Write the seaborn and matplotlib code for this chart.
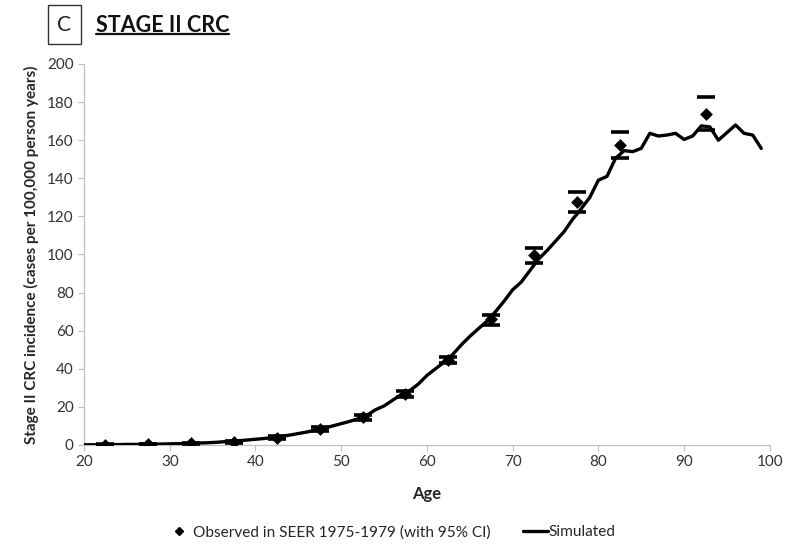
import matplotlib
matplotlib.use("Agg")
import matplotlib.pyplot as plt
from matplotlib.lines import Line2D
from matplotlib.patches import Rectangle
import seaborn as sns
import pandas as pd

# ---- data ----
sim_age = list(range(20, 100))
sim_val = [0.1, 0.1, 0.2, 0.2, 0.2, 0.3, 0.3, 0.4, 0.4, 0.5,
           0.6, 0.7, 0.8, 1.0, 1.1, 1.3, 1.6, 1.9, 2.2, 2.6,
           3.0, 3.4, 3.9, 4.5, 5.2, 6.0, 6.8, 7.8, 8.8, 10.0,
           11.2, 12.4, 13.8, 15.6, 18.5, 20.5, 23.5, 26.5, 28.5, 32.0,
           36.5, 40.0, 43.5, 47.5, 52.5, 57.0, 61.0, 65.0, 70.0, 75.5,
           81.5, 85.5, 91.5, 97.5, 102.0, 107.0, 112.0, 118.5, 124.0, 130.0,
           139.0, 141.0, 150.5, 154.5, 154.0, 155.7, 163.6, 162.2, 162.7, 163.6,
           160.4, 162.2, 167.5, 167.0, 160.0, 164.0, 168.0, 163.6, 162.7, 155.7]

obs_age = [22.5, 27.5, 32.5, 37.5, 42.5, 47.5, 52.5, 57.5, 62.5, 67.5, 72.5, 77.5, 82.5, 92.5]
obs_val = [0.2, 0.4, 0.9, 1.8, 3.8, 8.5, 14.5, 26.6, 44.6, 66.0, 99.6, 127.7, 157.5, 173.7]
obs_lo = [0.1, 0.3, 0.6, 1.3, 3.1, 7.5, 13.2, 25.0, 42.9, 63.0, 95.4, 122.5, 150.5, 165.4]
obs_hi = [0.3, 0.5, 1.2, 2.3, 4.5, 9.5, 15.8, 28.2, 46.0, 68.2, 103.2, 133.0, 164.1, 182.6]

x_ticks = [20, 30, 40, 50, 60, 70, 80, 90, 100]
y_ticks = [0, 20, 40, 60, 80, 100, 120, 140, 160, 180, 200]

title = "STAGE II CRC"
panel = "C"
x_label = "Age"
y_label = "Stage II CRC incidence (cases per 100,000 person years)"
leg_obs = "Observed in SEER 1975-1979 (with 95% CI)"
leg_sim = "Simulated"

# ---- style ----
sns.set_style("white")
plt.rcParams['font.family'] = ['Lato', 'DejaVu Sans']

fig = plt.figure(figsize=(8.04, 5.47), dpi=100)
ax = fig.add_axes([0.1045, 0.1865, 0.853, 0.6965])

sim_df = pd.DataFrame({"age": sim_age, "val": sim_val})
obs_df = pd.DataFrame({"age": obs_age, "val": obs_val})

sns.lineplot(data=sim_df, x="age", y="val", ax=ax, color="black", linewidth=2.4, zorder=3)

lo_err = [v - l for v, l in zip(obs_val, obs_lo)]
hi_err = [h - v for v, h in zip(obs_val, obs_hi)]
ax.errorbar(obs_age, obs_val, yerr=[lo_err, hi_err], fmt="none", ecolor="black",
            elinewidth=0, capsize=6.5, capthick=2.6, zorder=4)
sns.scatterplot(data=obs_df, x="age", y="val", ax=ax, marker="D", color="black",
                s=36, edgecolor="black", linewidth=0.5, zorder=5)

ax.set_xlim(20, 100)
ax.set_ylim(0, 200)
ax.set_xticks(x_ticks)
ax.set_yticks(y_ticks)
ax.tick_params(axis="both", labelsize=11, colors="#333333", length=4, width=0.8,
               direction="out", color="#BFBFBF")
ax.tick_params(axis="x", bottom=True)
ax.tick_params(axis="y", left=True)
for s in ["top", "right"]:
    ax.spines[s].set_visible(False)
for s in ["left", "bottom"]:
    ax.spines[s].set_color("#BFBFBF")
    ax.spines[s].set_linewidth(0.9)

ax.set_xlabel(x_label, fontsize=12, fontweight="bold", labelpad=12)
ax.set_ylabel(y_label, fontsize=11, fontweight="bold", labelpad=6)

# legend (two parts, as in the reference)
h_obs = Line2D([], [], marker="D", color="black", linestyle="none", markersize=4.5)
h_sim = Line2D([], [], color="black", linewidth=2.4)
leg1 = fig.legend([h_obs], [leg_obs], loc="center left", bbox_to_anchor=(173 / 804, 0.027),
                  frameon=False, fontsize=11.1, handlelength=0.8, handletextpad=0.52,
                  borderpad=0, borderaxespad=0)
leg2 = fig.legend([h_sim], [leg_sim], loc="center left", bbox_to_anchor=(523 / 804, 0.027),
                  frameon=False, fontsize=11.1, handlelength=1.62, handletextpad=0.05,
                  borderpad=0, borderaxespad=0)

# panel box and title
fig.patches.append(Rectangle((48 / 804, 1 - 44 / 547), 33 / 804, 39 / 547,
                             transform=fig.transFigure, fill=False, edgecolor="#333333",
                             linewidth=1.0))
fig.text(64.5 / 804, 1 - 25 / 547, panel, ha="center", va="center", fontsize=15, color="#222222")
t = fig.text(96 / 804, 1 - 25 / 547, title, ha="left", va="center", fontsize=15.5,
             fontweight="bold", color="#111111")
fig.canvas.draw()
bb = t.get_window_extent(renderer=fig.canvas.get_renderer())
inv = fig.transFigure.inverted()
(x0, y0), (x1, y1) = inv.transform([[bb.x0, bb.y0], [bb.x1, bb.y1]])
fig.add_artist(Line2D([x0, x1], [y0 + 0.002, y0 + 0.002], transform=fig.transFigure,
                      color="#111111", linewidth=1.6))

fig.savefig("out.png", dpi=100)
